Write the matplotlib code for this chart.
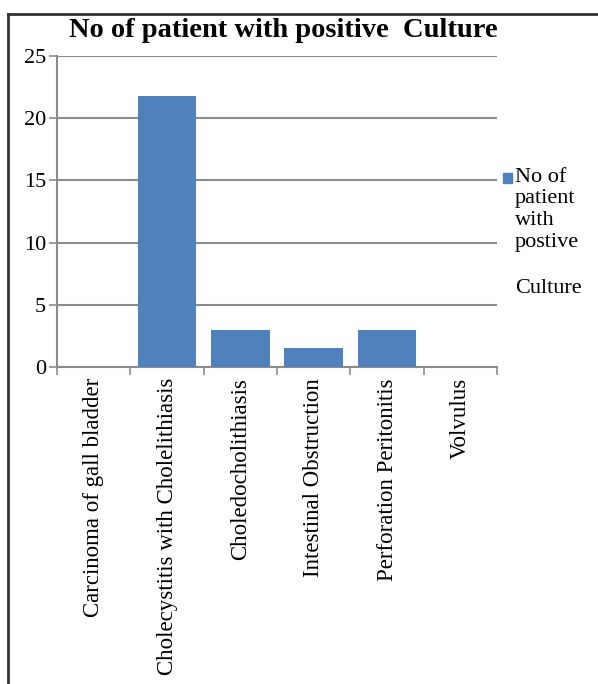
import matplotlib.pyplot as plt
from matplotlib.lines import Line2D
from matplotlib.patches import Rectangle

categories = [
    "Carcinoma of gall bladder",
    "Cholecystitis with Cholelithiasis",
    "Choledocholithiasis",
    "Intestinal Obstruction",
    "Perforation Peritonitis",
    "Volvulus",
]
counts = [0, 21.8, 3, 1.5, 3, 0]
y_ticks = [0, 5, 10, 15, 20, 25]

bar_color = '#4F81BD'
grid_color = '#8C8C8C'

plt.rcParams['font.family'] = ['Liberation Serif', 'DejaVu Serif']

fig = plt.figure(figsize=(5.98, 6.84), dpi=100)
ax = fig.add_axes([0.0953, 0.4635, 0.736, 0.4545])

x = list(range(len(categories)))
ax.bar(x, counts, width=0.8, color=bar_color, zorder=3)

ax.set_xlim(-0.5, len(categories) - 0.5)
ax.set_ylim(0, 25)
ax.set_yticks(y_ticks)
ax.set_yticklabels([str(t) for t in y_ticks], fontsize=16)
ax.yaxis.grid(True, color=grid_color, linewidth=1.5, zorder=0)

# category labels between boundary ticks
ax.set_xticks([i - 0.5 for i in range(len(categories) + 1)])
ax.set_xticklabels([])
ax.set_xticks(x, minor=True)
ax.set_xticklabels(categories, minor=True, rotation=90, fontsize=16.5,
                   va='top', ha='center')
ax.tick_params(axis='x', which='minor', length=0, pad=8)
ax.tick_params(axis='x', which='major', length=6, color=grid_color, width=1.2)
ax.tick_params(axis='y', length=6, color=grid_color, width=1.2, pad=2)

for side in ['top', 'right']:
    ax.spines[side].set_visible(False)
for side in ['left', 'bottom']:
    ax.spines[side].set_color(grid_color)
    ax.spines[side].set_linewidth(1.5)

fig.text(0.474, 0.956, "No of patient with positive  Culture", ha='center',
         va='center', fontsize=20.5, fontweight='bold')

# legend drawn by hand so the marker sits on the first line
fig.add_artist(Rectangle((0.841, 0.733), 0.015, 0.014, color=bar_color,
                         transform=fig.transFigure))
fig.text(0.861, 0.755, "No of\npatient\nwith\npostive", ha='left', va='top',
         fontsize=16, linespacing=1.2)
fig.text(0.861, 0.564, "Culture", ha='left', va='bottom', fontsize=16)

# outer frame (left and top edges)
fig.add_artist(Line2D([0.0134, 0.0134], [0.0, 0.9795], color='#333333',
                      linewidth=2, transform=fig.transFigure))
fig.add_artist(Line2D([0.0134, 1.0], [0.9795, 0.9795], color='#333333',
                      linewidth=2, transform=fig.transFigure))

plt.savefig('out.png', dpi=100)
